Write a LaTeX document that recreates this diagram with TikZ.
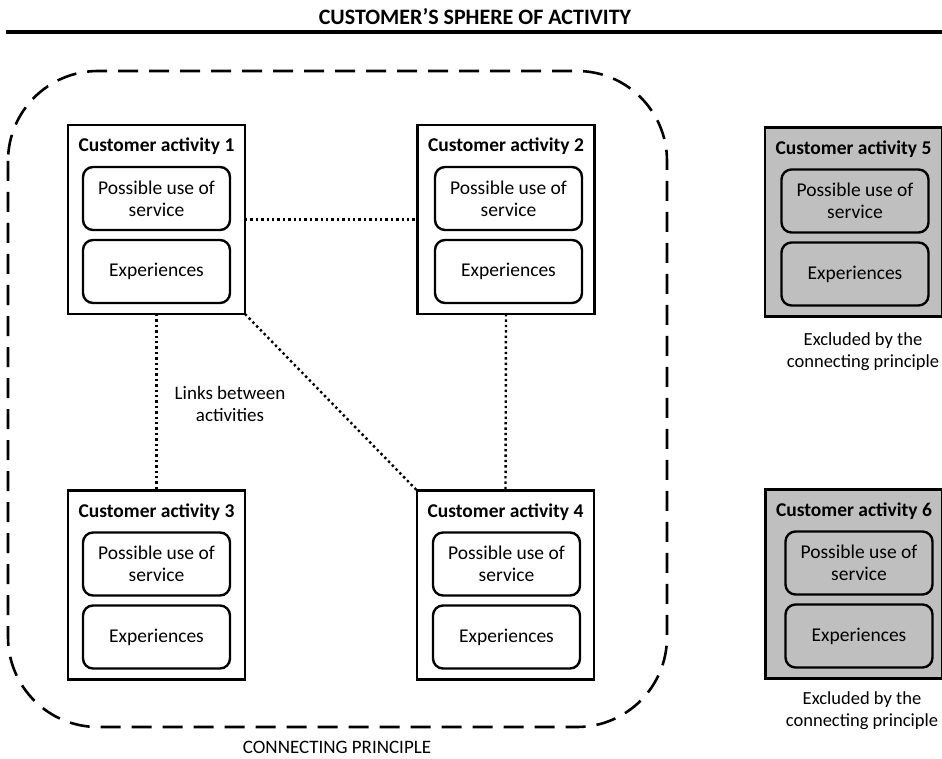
\documentclass[tikz,border=0pt]{standalone}
\usepackage{fontspec}
\setmainfont{Carlito}
\begin{document}
\begin{tikzpicture}[x=1pt,y=-1pt,
  base/.style={font=\fontsize{19.5}{22}\selectfont},
  actbox/.style={draw,line width=2.4pt,minimum width=177pt,minimum height=189pt,inner sep=0pt,outer sep=0pt},
  acttitle/.style={font=\fontsize{19.5}{22}\selectfont\bfseries,inner sep=0pt},
  inbox/.style={base,draw,line width=2.4pt,rounded corners=10pt,minimum width=147pt,minimum height=63pt,inner sep=0pt,align=center},
  link/.style={line width=2.4pt,dash pattern=on 2.4pt off 3pt},
  plain/.style={font=\fontsize{19}{22}\selectfont,align=center,inner sep=0pt},
  note/.style={font=\fontsize{18.5}{22}\selectfont,align=center,inner sep=0pt},
  excl/.style={fill=black!25}
]
\useasboundingbox (0,0) rectangle (942,759);
% title and rule
\node[font=\fontsize{22}{26}\selectfont\bfseries,inner sep=0pt] (title) at (475,17) {CUSTOMER’S SPHERE OF ACTIVITY};
\coordinate (ruleL) at (6,32);
\coordinate (ruleR) at (942,32);
\draw[line width=3.4pt] (ruleL) -- (ruleR);
% connecting principle boundary
\draw[line width=2.6pt,dash pattern=on 20pt off 11pt,rounded corners=90pt] (8,71) rectangle (667,727);
\node[plain] (cp) at (337,747) {CONNECTING PRINCIPLE};
% activities
\foreach \n/\x/\y/\ix/\st in {1/156.5/219.5/156.5/, 2/506/219.5/508.5/, 3/156.5/585/156.5/, 4/505.5/585/506.5/, 5/853.5/222/855/excl, 6/854/584/859/excl}{
  \node[actbox,\st] (a\n) at (\x,\y) {};
  \node[acttitle] (t\n) at (\x,\y-73) {Customer activity \n};
  \node[inbox,\st] (p\n) at (\ix,\y-21) {Possible use of\\service};
  \node[inbox,\st] (e\n) at (\ix,\y+52) {Experiences};
}
% links
\draw[link] (a1.east) -- (a2.west);
\draw[link] (a1.south) -- (a3.north);
\draw[link] (a1.south east) -- (a4.north west);
\draw[link] (a2.south) -- (a4.north);
\node[plain] (links) at (230,404) {Links between\\activities};
\node[note] (x5) at (863,352) {Excluded by the\\connecting principle};
\node[note] (x6) at (862,711) {Excluded by the\\connecting principle};
\end{tikzpicture}
\end{document}
